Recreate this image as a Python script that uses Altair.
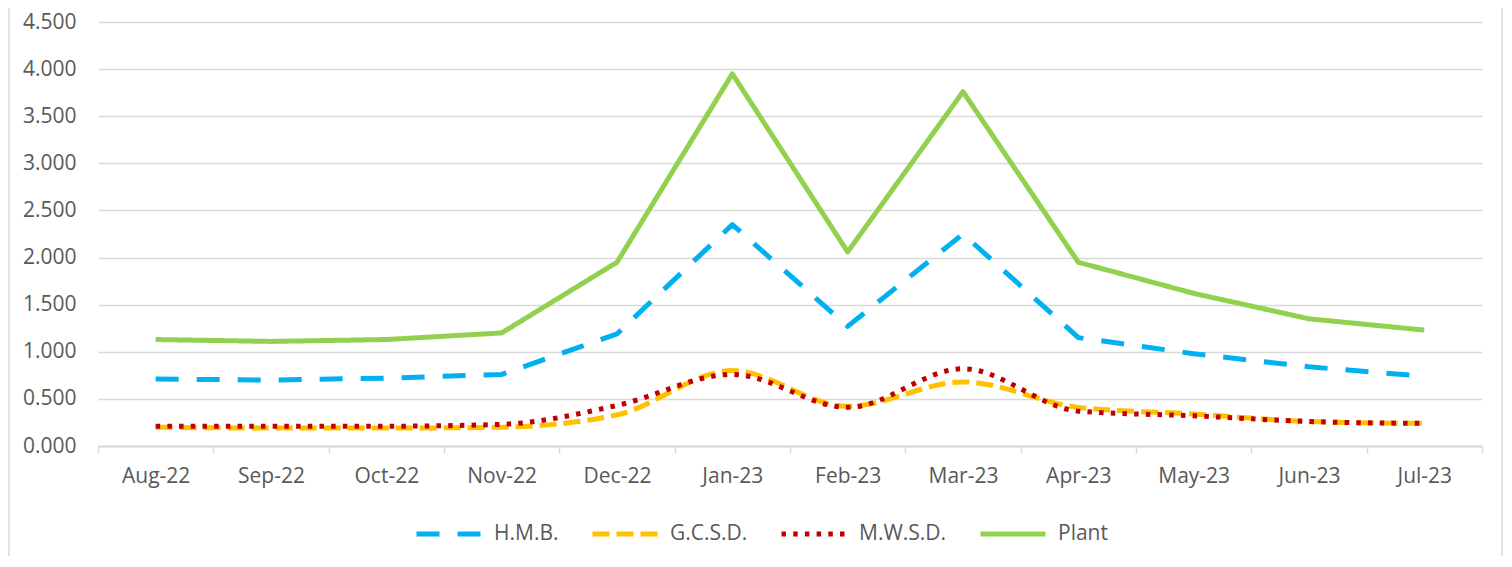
import altair as alt
import pandas as pd

# ---- data ----
months = ["Aug-22", "Sep-22", "Oct-22", "Nov-22", "Dec-22", "Jan-23",
          "Feb-23", "Mar-23", "Apr-23", "May-23", "Jun-23", "Jul-23"]
series_names = ["H.M.B.", "G.C.S.D.", "M.W.S.D.", "Plant"]
hmb = [0.71, 0.70, 0.72, 0.76, 1.19, 2.35, 1.27, 2.25, 1.15, 0.98, 0.84, 0.74]
gcsd = [0.20, 0.19, 0.19, 0.20, 0.33, 0.80, 0.42, 0.68, 0.41, 0.34, 0.26, 0.24]
mwsd = [0.21, 0.21, 0.21, 0.23, 0.43, 0.76, 0.41, 0.82, 0.37, 0.32, 0.26, 0.24]
plant = [1.13, 1.11, 1.13, 1.20, 1.95, 3.95, 2.06, 3.76, 1.95, 1.62, 1.35, 1.23]
y_ticks = [0.0, 0.5, 1.0, 1.5, 2.0, 2.5, 3.0, 3.5, 4.0, 4.5]

# ---- styles ----
colors = ["#00B0F0", "#FFC000", "#C00000", "#92D050"]
dashes = [[23, 18], [17, 7], [4.5, 7.2], [1, 0]]
interps = ["linear", "monotone", "monotone", "linear"]
grid_grey = "#D9D9D9"
text_grey = "#595959"
font = "Open Sans"

rows = []
for name, vals in zip(series_names, [hmb, gcsd, mwsd, plant]):
    for m, v in zip(months, vals):
        rows.append({"month": m, "series": name, "value": v})
df = pd.DataFrame(rows)

x = alt.X(
    "month:O",
    scale=alt.Scale(type="band", domain=months, paddingInner=0, paddingOuter=0),
    bandPosition=0.5,
    axis=alt.Axis(title=None, labelAngle=0, tickBand="extent", grid=False,
                  domainColor=grid_grey, domainWidth=2, tickColor=grid_grey,
                  tickWidth=1.5, tickSize=7, labelPadding=12),
)
y = alt.Y(
    "value:Q",
    scale=alt.Scale(domain=[0, 4.5], nice=False, zero=True),
    axis=alt.Axis(title=None, values=y_ticks, format=".3f", grid=True,
                  gridColor=grid_grey, gridWidth=1.3, domain=False, ticks=False,
                  labelPadding=22),
)

legend = alt.Legend(
    title=None, orient="none", legendX=316, legendY=477, direction="horizontal",
    columns=4, symbolType="stroke", symbolSize=4225, symbolStrokeWidth=5,
    labelFont=font, labelFontSize=21, labelColor=text_grey, labelOffset=10,
    columnPadding=23, padding=0,
)
color = alt.Color("series:N", scale=alt.Scale(domain=series_names, range=colors), legend=legend)
dash = alt.StrokeDash("series:N", scale=alt.Scale(domain=series_names, range=dashes), legend=legend)

base = alt.Chart(df).encode(x=x, y=y, color=color, strokeDash=dash)
layers = []
for name, interp in zip(series_names, interps):
    layers.append(
        base.transform_filter(alt.datum.series == name)
        .mark_line(strokeWidth=5, interpolate=interp, strokeCap="butt", strokeJoin="round")
    )

edge = alt.Data(values=[{"k": 0}])
border_l = alt.Chart(edge).mark_rule(color=grid_grey, strokeWidth=1.5).encode(
    x=alt.value(-89), y=alt.value(-14), y2=alt.value(545))
border_r = alt.Chart(edge).mark_rule(color=grid_grey, strokeWidth=1.5).encode(
    x=alt.value(1404), y=alt.value(-14), y2=alt.value(545))

chart = (
    alt.layer(border_l, border_r, *layers)
    .properties(
        width=1384, height=424,
        autosize=alt.AutoSizeParams(type="none"),
        padding={"left": 90, "top": 14, "right": 22, "bottom": 110},
    )
    .configure_view(stroke=None)
    .configure_axis(labelFont=font, labelFontSize=21, labelColor=text_grey)
)

chart.save("out.html", embed_options={"renderer": "svg", "actions": False})
